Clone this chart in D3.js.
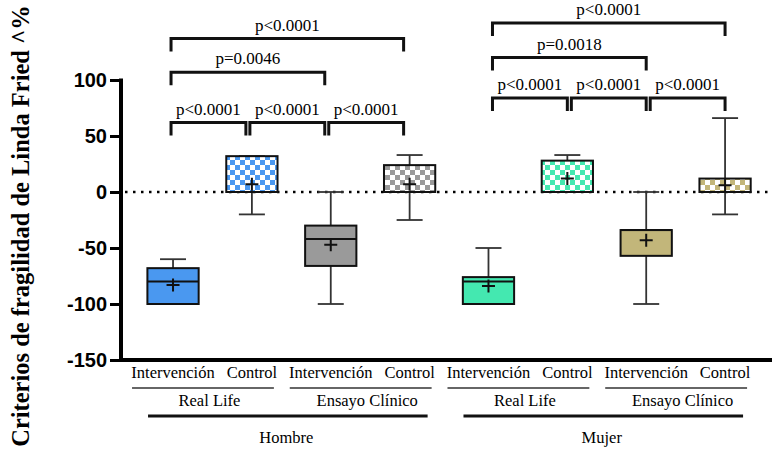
<!DOCTYPE html>
<meta charset="utf-8">
<script src="https://d3js.org/d3.v7.min.js"></script>
<style>
  body { margin: 0; background: white; }
  .serif { font-family: "Liberation Serif", "Times New Roman", Tinos, "DejaVu Serif", serif; }
  .sans { font-family: "Liberation Sans", Arial, sans-serif; }
</style>
<div id="chart"></div>
<script>
  // groups, left to right
  var categories = ["Intervención", "Control", "Intervención", "Control",
                    "Intervención", "Control", "Intervención", "Control"];
  var studies = ["Real Life", "Ensayo Clínico", "Real Life", "Ensayo Clínico"];
  var sexes = ["Hombre", "Mujer"];

  // box plot values (%)
  var whiskerLow  = [-100, -20, -100, -25, -100,  0, -100, -20];
  var q1          = [-100,   0,  -66,   0, -100,  0,  -57,   0];
  var median      = [ -80,   0,  -42,   0,  -80,  0,  -34,   0];
  var q3          = [ -68,  32,  -30,  24,  -76, 28,  -34,  12];
  var whiskerHigh = [ -60,  32,    0,  33,  -50, 33,    0,  66];
  var means       = [ -83,   7,  -47,   7,  -84, 12,  -43,   6];

  // significance brackets: from, to, height (axis units), label
  var bracketFrom  = [0, 1, 2, 0, 0, 4, 5, 6, 4, 4];
  var bracketTo    = [1, 2, 3, 2, 3, 5, 6, 7, 6, 7];
  var bracketLevel = [62, 62, 62, 107, 137, 84, 84, 84, 120, 151];
  var bracketText  = ["p<0.0001", "p<0.0001", "p<0.0001", "p=0.0046", "p<0.0001",
                      "p<0.0001", "p<0.0001", "p<0.0001", "p=0.0018", "p<0.0001"];

  var yTicks = [100, 50, 0, -50, -100, -150];

  var width = 772, height = 451;
  var svg = d3.select("#chart").append("svg")
    .attr("width", width).attr("height", height);

  var defs = svg.append("defs");
  function checker(id, col) {
    var p = defs.append("pattern").attr("id", id)
      .attr("patternUnits", "userSpaceOnUse")
      .attr("width", 10).attr("height", 10);
    p.append("rect").attr("width", 10).attr("height", 10).attr("fill", "white");
    p.append("rect").attr("width", 5).attr("height", 5).attr("fill", col);
    p.append("rect").attr("x", 5).attr("y", 5).attr("width", 5).attr("height", 5).attr("fill", col);
  }
  var blue = "#4a98f0", teal = "#44e8b0", grey = "#9a9a9a", khaki = "#c2b67a";
  checker("chkBlue", blue);
  checker("chkGrey", grey);
  checker("chkTeal", teal);
  checker("chkKhaki", khaki);
  var fills = [blue, "url(#chkBlue)", grey, "url(#chkGrey)",
               teal, "url(#chkTeal)", khaki, "url(#chkKhaki)"];

  var x = d3.scaleBand().domain(d3.range(8)).range([133.6, 764.5]).paddingInner(0.35).paddingOuter(0.175);
  var y = d3.scaleLinear().domain([-150, 100]).range([360, 80]);
  var cx = function(i) { return x(i) + x.bandwidth() / 2; };
  var axisX = 121;

  // zero line
  svg.append("line")
    .attr("x1", axisX + 4).attr("x2", width)
    .attr("y1", y(0)).attr("y2", y(0))
    .attr("stroke", "black").attr("stroke-width", 2.5)
    .attr("stroke-dasharray", "2.5,5.5");

  // y axis
  var yAxis = svg.append("g")
    .attr("transform", "translate(" + axisX + ",0)")
    .call(d3.axisLeft(y).tickValues(yTicks).tickSize(11).tickPadding(3).tickFormat(d3.format("d")));
  yAxis.attr("font-family", null).attr("font-size", null);
  yAxis.select(".domain").attr("stroke-width", 4).attr("d", "M0," + (y(100) - 1.5) + "V" + (y(-150) + 2));
  yAxis.selectAll(".tick line").attr("stroke-width", 3);
  yAxis.selectAll(".tick text")
    .attr("class", "sans")
    .attr("font-weight", "bold").attr("font-size", 20).attr("fill", "black")
    .text(function(d) { return d < 0 ? "-" + Math.abs(d) : d; });

  // x axis line
  svg.append("line")
    .attr("x1", axisX - 2).attr("x2", width)
    .attr("y1", y(-150)).attr("y2", y(-150))
    .attr("stroke", "black").attr("stroke-width", 4);

  // boxes
  var boxes = svg.append("g").selectAll("g").data(d3.range(8)).join("g");
  var capW = 26;
  function vline(sel, a, b) {
    sel.append("line")
      .attr("x1", cx).attr("x2", cx)
      .attr("y1", function(i) { return y(a[i]); })
      .attr("y2", function(i) { return y(b[i]); })
      .attr("stroke", "#333").attr("stroke-width", 1.8);
  }
  function cap(sel, a) {
    sel.append("line")
      .attr("x1", function(i) { return cx(i) - capW / 2; })
      .attr("x2", function(i) { return cx(i) + capW / 2; })
      .attr("y1", function(i) { return y(a[i]); })
      .attr("y2", function(i) { return y(a[i]); })
      .attr("stroke", "#333").attr("stroke-width", 1.8);
  }
  vline(boxes, whiskerHigh, q3);
  vline(boxes, q1, whiskerLow);
  cap(boxes, whiskerHigh);
  cap(boxes, whiskerLow);
  boxes.append("rect")
    .attr("x", function(i) { return x(i); })
    .attr("width", x.bandwidth())
    .attr("y", function(i) { return y(q3[i]); })
    .attr("height", function(i) { return y(q1[i]) - y(q3[i]); })
    .attr("fill", function(i) { return fills[i]; })
    .attr("stroke", "#111").attr("stroke-width", 2);
  boxes.append("line")
    .attr("x1", function(i) { return x(i); })
    .attr("x2", function(i) { return x(i) + x.bandwidth(); })
    .attr("y1", function(i) { return y(median[i]); })
    .attr("y2", function(i) { return y(median[i]); })
    .attr("stroke", "#111").attr("stroke-width", 2);
  // mean +
  var pm = 6.5;
  boxes.append("path")
    .attr("d", function(i) {
      var px = cx(i), py = y(means[i]);
      return "M" + (px - pm) + "," + py + "H" + (px + pm) + "M" + px + "," + (py - pm) + "V" + (py + pm);
    })
    .attr("stroke", "#111").attr("stroke-width", 2).attr("fill", "none");

  // significance brackets
  var br = svg.append("g").selectAll("g").data(d3.range(bracketFrom.length)).join("g");
  function bx1(k) { return cx(bracketFrom[k]) - 2 + (bracketFrom[k] >= 4 ? 6 : 0); }
  function bx2(k) { return cx(bracketTo[k]) - 6 + (bracketFrom[k] >= 4 ? 6 : 0); }
  br.append("path")
    .attr("d", function(k) {
      var ly = y(bracketLevel[k]);
      return "M" + bx1(k) + "," + (ly + 13) + "V" + ly + "H" + bx2(k) + "V" + (ly + 13);
    })
    .attr("fill", "none").attr("stroke", "#111").attr("stroke-width", 3);
  br.append("text")
    .attr("class", "serif")
    .attr("x", function(k) { return (bx1(k) + bx2(k)) / 2; })
    .attr("y", function(k) { return y(bracketLevel[k]) - 8; })
    .attr("text-anchor", "middle")
    .attr("font-size", 17)
    .text(function(k) { return bracketText[k]; });

  // category labels
  svg.append("g").selectAll("text").data(d3.range(8)).join("text")
    .attr("class", "serif")
    .attr("x", cx).attr("y", 378)
    .attr("text-anchor", "middle")
    .attr("font-size", 16.5)
    .text(function(i) { return categories[i]; });

  // study labels with thin underline above
  var st = svg.append("g").selectAll("g").data(d3.range(studies.length)).join("g");
  st.append("line")
    .attr("x1", function(s) { return cx(2 * s) - 41; })
    .attr("x2", function(s) { return cx(2 * s + 1) + 22; })
    .attr("y1", 388).attr("y2", 388)
    .attr("stroke", "#333").attr("stroke-width", 1.5);
  st.append("text")
    .attr("class", "serif")
    .attr("x", function(s) { return (cx(2 * s) + cx(2 * s + 1)) / 2 - 3; })
    .attr("y", 406)
    .attr("text-anchor", "middle")
    .attr("font-size", 16.5)
    .text(function(s) { return studies[s]; });

  // sex labels with thick line above
  var sx = svg.append("g").selectAll("g").data(d3.range(sexes.length)).join("g");
  sx.append("line")
    .attr("x1", function(s) { return cx(4 * s) - 25; })
    .attr("x2", function(s) { return cx(4 * s + 3) + 18; })
    .attr("y1", 416).attr("y2", 416)
    .attr("stroke", "#111").attr("stroke-width", 3);
  sx.append("text")
    .attr("class", "serif")
    .attr("x", function(s) { return (cx(4 * s) + cx(4 * s + 3)) / 2 - 5; })
    .attr("y", 443)
    .attr("text-anchor", "middle")
    .attr("font-size", 16.5)
    .text(function(s) { return sexes[s]; });

  // y title
  svg.append("text")
    .attr("class", "serif")
    .attr("transform", "translate(29,226) rotate(-90)")
    .attr("text-anchor", "middle")
    .attr("font-weight", "bold").attr("font-size", 24.5)
    .text("Criterios de fragilidad de Linda Fried ^%");
</script>
